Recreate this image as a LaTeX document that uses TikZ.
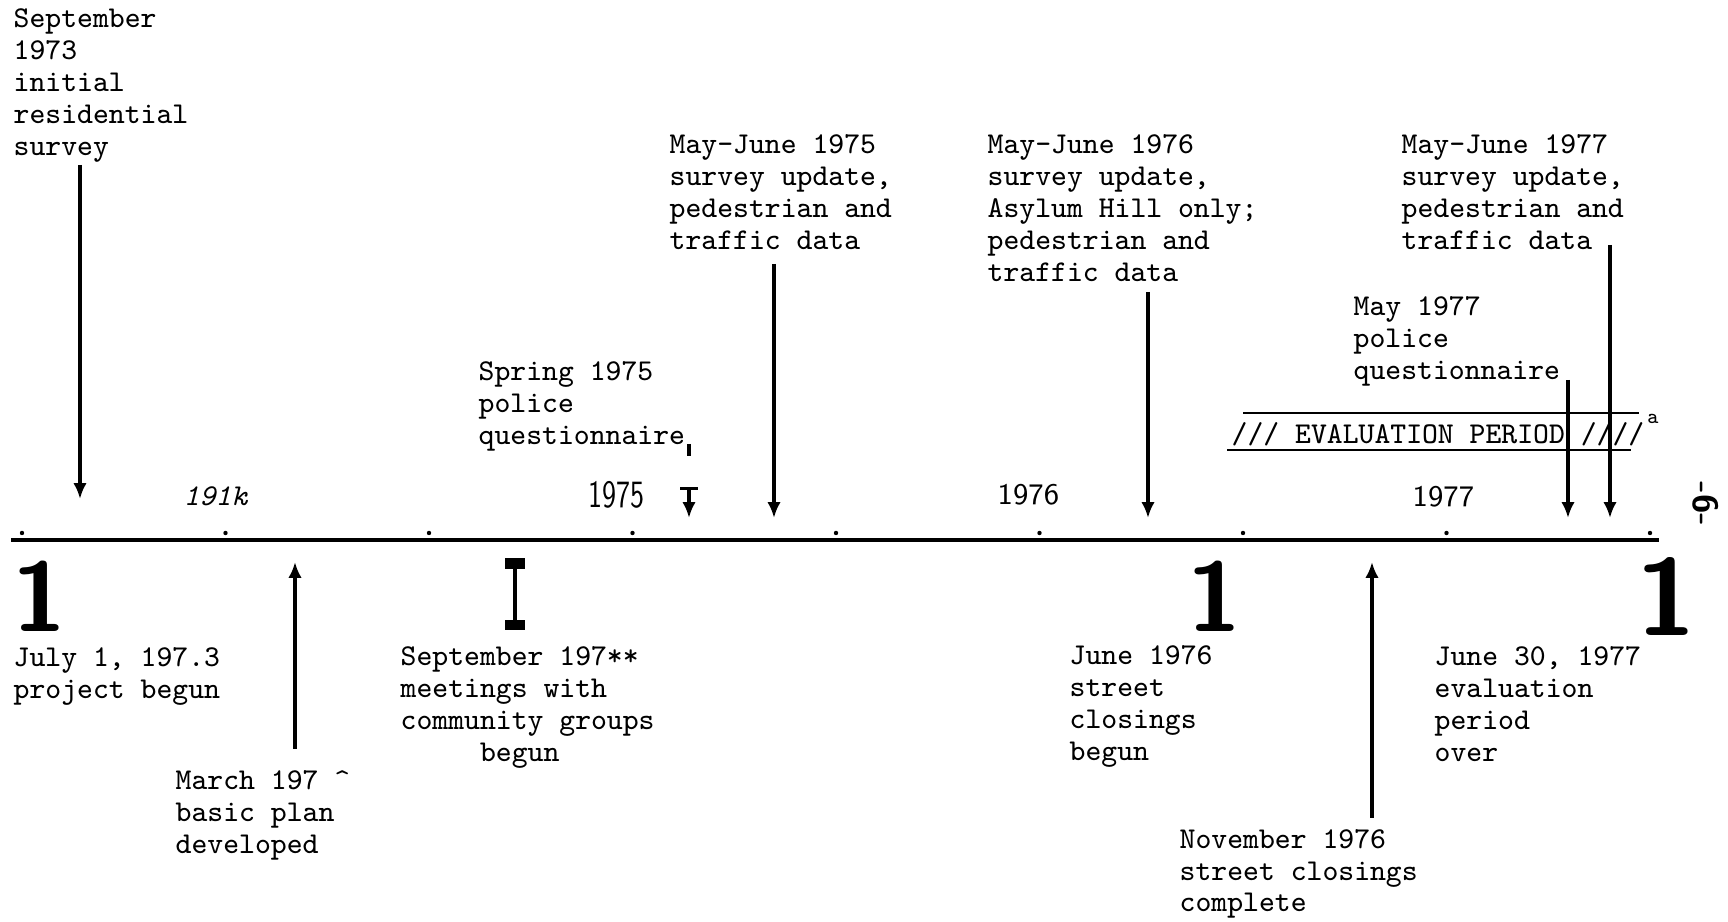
\documentclass[tikz,border=0pt]{standalone}
\usepackage{fontspec}
\usepackage{graphicx}
\usetikzlibrary{arrows.meta,positioning}

\begin{document}
\begin{tikzpicture}[x=1cm,y=1cm,
    lbl/.style={anchor=base west,align=left,inner sep=0pt,font=\ttfamily\fontsize{8.6}{9.1}\selectfont},
    yr/.style={anchor=base west,inner sep=0pt,font=\sffamily\fontsize{8.5}{10}\selectfont},
    big/.style={anchor=base,inner sep=0pt,font=\sffamily\bfseries\fontsize{#1}{#1}\selectfont},
    arr/.style={-{Latex[length=4.5pt,width=3.8pt]},line width=0.9pt},
    axis/.style={line width=0.9pt},
    band/.style={line width=0.8pt},
]
\useasboundingbox (0,0) rectangle (17.28,-9.22);

% Time axis
\coordinate (axl) at (0.11,-5.40);
\coordinate (axr) at (16.59,-5.40);
\draw[axis] (axl) -- (axr);
\foreach \k in {0,...,8}
  \fill (0.22+2.035*\k,-5.33) circle (0.022);

% Year marks
\node[lbl,font=\ttfamily\itshape\fontsize{8.6}{9.1}\selectfont] (k191) at (1.83,-5.06) {191k};
\node[yr,font=\sffamily\fontsize{11}{12}\selectfont] (yr75) at (5.88,-5.08) {\scalebox{0.74}[1]{1975}};
\node[yr] (yr76) at (9.97,-5.05) {1976};
\node[yr] (yr77) at (14.12,-5.07) {1977};

% Big ones
\node[big=28] (one1) at (0.40,-6.32) {1};
\node[big=28] (one2) at (12.15,-6.32) {1};
\node[big=31] (one3) at (16.66,-6.36) {1};

% Events above the axis (anchored at the last line)
\node[lbl] (sept73) at (0.13,-1.554) {September\\1973\\initial\\residential\\survey};
\node[lbl] (spring75) at (4.78,-4.442) {Spring 1975\\police\\questionnaire};
\node[lbl] (survey75) at (6.69,-2.493) {May-June 1975\\survey update,\\pedestrian and\\traffic data};
\node[lbl] (survey76) at (9.87,-2.814) {May-June 1976\\survey update,\\Asylum Hill only;\\pedestrian and\\traffic data};
\node[lbl] (survey77) at (14.01,-2.493) {May-June 1977\\survey update,\\pedestrian and\\traffic data};
\node[lbl] (police77) at (13.53,-3.792) {May 1977\\police\\questionnaire};

% Events below the axis
\node[lbl] (july73) at (0.13,-6.981) {July 1, 197.3\\project begun};
\node[lbl] (march74) at (1.75,-8.532) {March 197 \textasciicircum\\basic plan\\developed};
\node[lbl] (meet74) at (4.00,-7.613) {September 197**\\meetings with\\community groups\\\phantom{mmmmm}begun};
\node[lbl] (close76) at (10.69,-7.603) {June 1976\\street\\closings\\begun};
\node[lbl] (nov76) at (11.79,-9.12) {November 1976\\street closings\\complete};
\node[lbl] (over77) at (14.34,-7.613) {June 30, 1977\\evaluation\\period\\over};

% Evaluation period
\draw[band] (12.43,-4.13) -- (16.39,-4.13);
\draw[band] (12.27,-4.50) -- (16.31,-4.50);
\node[lbl] (evalbox) at (12.31,-4.44) {/// EVALUATION PERIOD ////};
\node[inner sep=0pt,font=\ttfamily\fontsize{6}{6}\selectfont] (mark) at (16.53,-4.19) {a};

% Page number
\node[inner sep=0pt,rotate=-90,font=\sffamily\bfseries\fontsize{10}{10}\selectfont] (pagenum) at (17.06,-5.04) {-6-};

% Arrow ends
\coordinate (t1a) at (0.80,-1.65);  \coordinate (t1b) at (0.80,-4.99);
\coordinate (t2a) at (7.74,-2.64);  \coordinate (t2b) at (7.74,-5.18);
\coordinate (t3a) at (11.48,-2.92); \coordinate (t3b) at (11.48,-5.18);
\coordinate (t4a) at (15.68,-3.80); \coordinate (t4b) at (15.68,-5.18);
\coordinate (t5a) at (16.10,-2.45); \coordinate (t5b) at (16.10,-5.18);
\coordinate (q1) at (6.89,-4.44);   \coordinate (q2) at (6.89,-4.56);
\coordinate (q3) at (6.89,-4.87);   \coordinate (q4) at (6.89,-5.18);
\coordinate (b1a) at (2.95,-7.49);  \coordinate (b1b) at (2.95,-5.62);
\coordinate (b3a) at (13.72,-8.18); \coordinate (b3b) at (13.72,-5.62);
\coordinate (ib1) at (5.15,-5.635); \coordinate (ib2) at (5.15,-6.25);

% Connections
\draw[arr] (t1a) -- (t1b); \draw[arr] (t2a) -- (t2b); \draw[arr] (t3a) -- (t3b);
\draw[arr] (t4a) -- (t4b); \draw[arr] (t5a) -- (t5b);
\draw[line width=1.3pt] (q1) -- (q2);
\draw[arr,{Bar[width=5pt]}-{Latex[length=4.5pt,width=3.8pt]}] (q3) -- (q4);
\draw[arr] (b1a) -- (b1b); \draw[arr] (b3a) -- (b3b);
\draw[line width=1.3pt] (ib1) -- (ib2);
\draw[line width=3.1pt] ([xshift=-2.8pt]ib1) -- ([xshift=2.8pt]ib1);
\draw[line width=3.1pt] ([xshift=-2.8pt]ib2) -- ([xshift=2.8pt]ib2);
\end{tikzpicture}
\end{document}
